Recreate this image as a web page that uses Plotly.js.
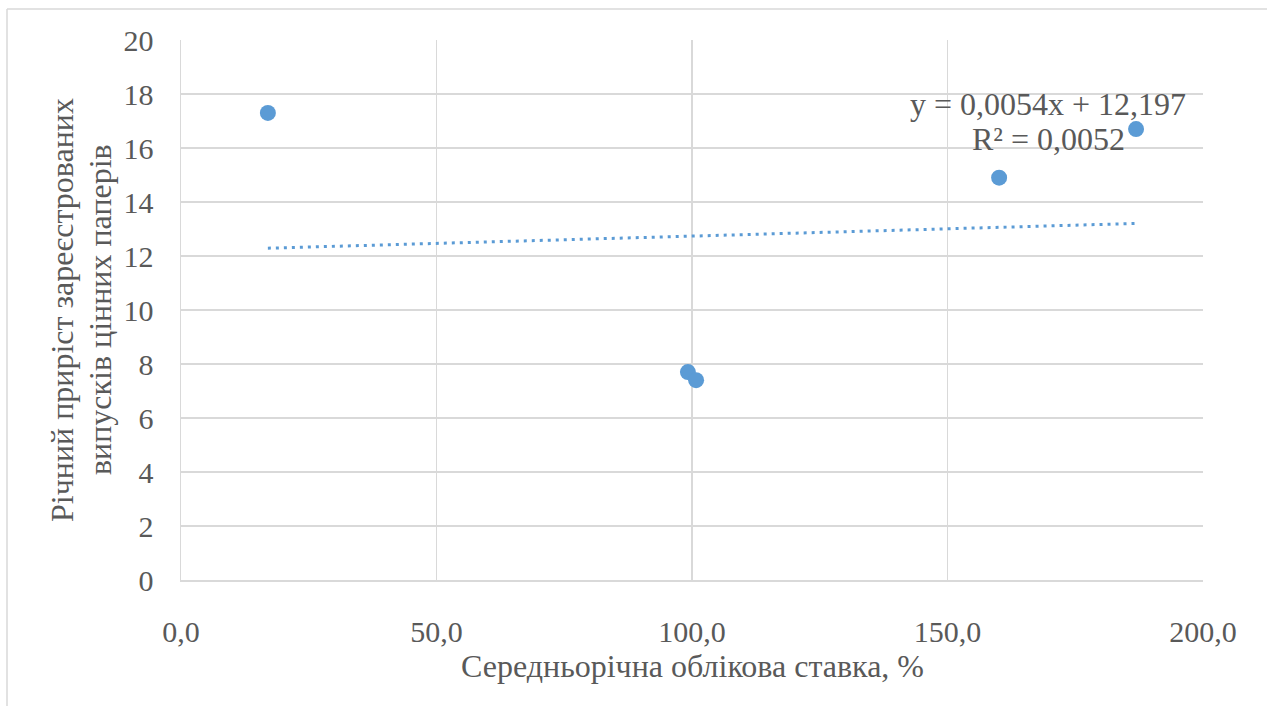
<!DOCTYPE html>
<html>
<head>
<meta charset="utf-8">
<script src="https://cdn.plot.ly/plotly-3.0.1.min.js"></script>
<style>
  html, body { margin: 0; padding: 0; background: #ffffff; }
  #chart { width: 1268px; height: 706px; }
</style>
</head>
<body>
<div id="chart"></div>
<script>
// Average discount rate (%) vs. annual growth of registered securities issues
const discountRate = [17.0, 99.2, 100.8, 160.1, 186.9];
const issueGrowth = [17.3, 7.7, 7.4, 14.9, 16.7];

// Linear trend as reported in the equation label
const trendSlope = 0.0054;
const trendIntercept = 12.197;
const trendR2 = 0.0052;

const xTicks = [0, 50, 100, 150, 200];
const xTickLabels = ['0,0', '50,0', '100,0', '150,0', '200,0'];
const yTicks = [0, 2, 4, 6, 8, 10, 12, 14, 16, 18, 20];

const xTitle = 'Середньорічна облікова ставка, %';
const yTitleLines = ['Річний приріст зареєстрованих', 'випусків цінних паперів'];

const fmt = (v, d) => v.toFixed(d).replace('.', ',');

const blue = '#5B9BD5';
const grid = '#D9D9D9';
const textGrey = '#595959';
const fontFamily = 'Liberation Serif, Times New Roman, serif';

const xMin = Math.min(...discountRate);
const xMax = Math.max(...discountRate);
const trendX = [xMin, xMax];
const trendY = trendX.map(x => trendSlope * x + trendIntercept);

const traces = [
  {
    x: trendX,
    y: trendY,
    mode: 'lines',
    type: 'scatter',
    line: { color: blue, width: 3, dash: '3px,5px' },
    hoverinfo: 'skip',
    showlegend: false
  },
  {
    x: discountRate,
    y: issueGrowth,
    mode: 'markers',
    type: 'scatter',
    marker: { color: blue, size: 16 },
    showlegend: false
  }
];

const textFont = size => ({ family: fontFamily, size: size, color: textGrey });

const equationLines = [
  'y = ' + fmt(trendSlope, 4) + 'x + ' + fmt(trendIntercept, 3),
  'R² = ' + fmt(trendR2, 4)
];

const annotations = [
  // trend equation, one annotation per line
  ...equationLines.map((t, i) => ({
    text: t,
    xref: 'x', yref: 'y',
    x: 169.7, y: i === 0 ? 17.62 : 16.32,
    xanchor: 'center', yanchor: 'middle',
    showarrow: false,
    font: textFont(32)
  })),
  {
    text: xTitle,
    xref: 'paper', yref: 'paper',
    x: 0.5, y: 0,
    xanchor: 'center', yanchor: 'middle',
    yshift: -86,
    showarrow: false,
    font: textFont(32)
  },
  // rotated y-axis title, two lines
  ...yTitleLines.map((t, i) => ({
    text: t,
    xref: 'paper', yref: 'paper',
    x: 0, y: 0.5,
    xanchor: 'center', yanchor: 'middle',
    xshift: i === 0 ? -119 : -81,
    textangle: -90,
    showarrow: false,
    font: textFont(32)
  }))
];

const layout = {
  width: 1268,
  height: 706,
  margin: { l: 181, r: 65, t: 40, b: 126 },
  paper_bgcolor: '#ffffff',
  plot_bgcolor: '#ffffff',
  font: { family: fontFamily, color: textGrey },
  xaxis: {
    range: [0, 200],
    tickvals: xTicks,
    ticktext: xTickLabels,
    showgrid: true,
    gridcolor: grid,
    gridwidth: 1.5,
    showline: true,
    linecolor: grid,
    linewidth: 1.5,
    zeroline: false,
    ticks: '',
    ticklabelstandoff: 24,
    tickfont: textFont(30),
    fixedrange: true
  },
  yaxis: {
    range: [0, 20],
    tickvals: yTicks,
    showgrid: true,
    gridcolor: grid,
    gridwidth: 1.5,
    showline: true,
    linecolor: grid,
    linewidth: 1.5,
    zeroline: false,
    ticks: '',
    ticklabelstandoff: 20,
    tickfont: textFont(30),
    fixedrange: true
  },
  annotations: annotations,
  shapes: [
    // chart frame (left and top edges)
    {
      type: 'line', xref: 'paper', yref: 'paper',
      x0: (7 - 181) / 1022, x1: (7 - 181) / 1022,
      y0: (580 - 9) / 540, y1: (580 - 720) / 540,
      line: { color: grid, width: 1.5 }
    },
    {
      type: 'line', xref: 'paper', yref: 'paper',
      x0: (7 - 181) / 1022, x1: (1267 - 181) / 1022,
      y0: (580 - 9) / 540, y1: (580 - 9) / 540,
      line: { color: grid, width: 1.5 }
    }
  ]
};

Plotly.newPlot('chart', traces, layout, { displayModeBar: false, staticPlot: true });
</script>
</body>
</html>
